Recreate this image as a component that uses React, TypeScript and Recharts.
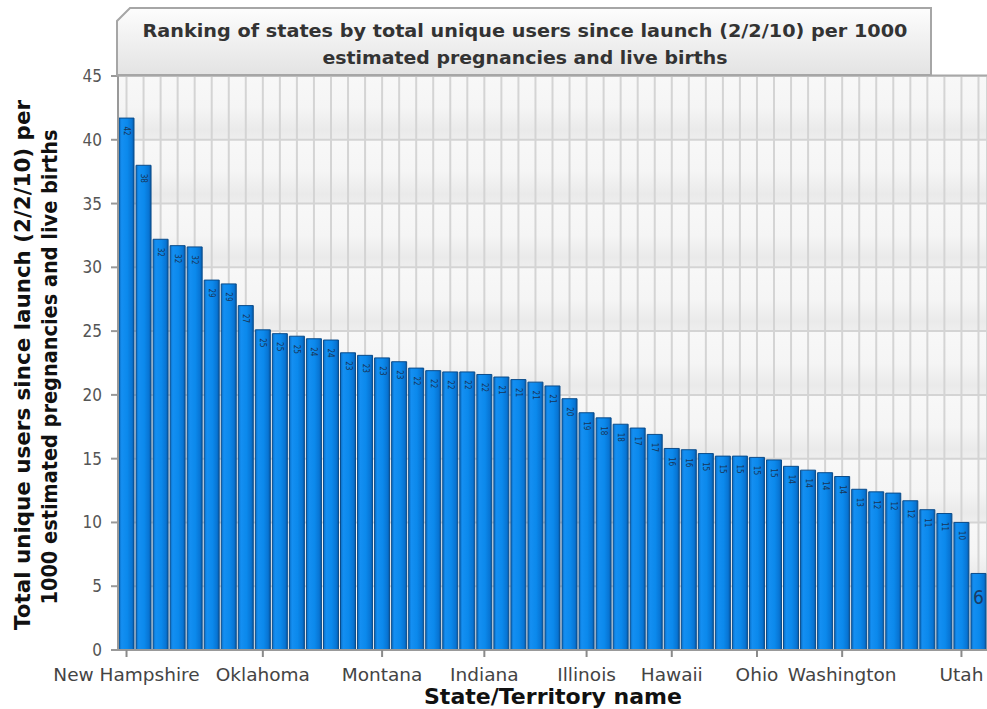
import React from 'react';
import { BarChart, Bar, XAxis, YAxis, CartesianGrid, LabelList } from 'recharts';

const states = [
  'New Hampshire', 'Vermont', 'Maine', 'Alaska', 'Massachusetts', 'Connecticut', 'Rhode Island', 'Wyoming',
  'Oklahoma', 'Oregon', 'Colorado', 'Minnesota', 'Delaware', 'Idaho', 'Kansas',
  'Montana', 'Iowa', 'Nebraska', 'North Dakota', 'South Dakota', 'Wisconsin',
  'Indiana', 'Michigan', 'Missouri', 'Virginia', 'Maryland', 'New Jersey',
  'Illinois', 'Pennsylvania', 'North Carolina', 'Kentucky', 'West Virginia',
  'Hawaii', 'Arizona', 'Tennessee', 'New Mexico', 'South Carolina',
  'Ohio', 'Alabama', 'Georgia', 'Nevada', 'California',
  'Washington', 'Louisiana', 'Arkansas', 'Florida', 'Mississippi', 'New York', 'Texas',
  'Utah', 'District of Columbia',
];

const usersPer1000 = [
  41.7, 38.0, 32.2, 31.7, 31.6, 29.0, 28.7, 27.0,
  25.1, 24.8, 24.6, 24.4, 24.3, 23.3, 23.1,
  22.9, 22.6, 22.1, 21.9, 21.8, 21.8,
  21.6, 21.4, 21.2, 21.0, 20.7, 19.7,
  18.6, 18.2, 17.7, 17.4, 16.9,
  15.8, 15.7, 15.4, 15.2, 15.2,
  15.1, 14.9, 14.4, 14.1, 13.9,
  13.6, 12.6, 12.4, 12.3, 11.7, 11.0, 10.7,
  10.0, 6.0,
];

const shownStateLabels = ['New Hampshire', 'Oklahoma', 'Montana', 'Indiana', 'Illinois', 'Hawaii', 'Ohio', 'Washington', 'Utah'];
const yTicks = [0, 5, 10, 15, 20, 25, 30, 35, 40, 45];
const titleLines = [
  'Ranking of states by total unique users since launch (2/2/10) per 1000',
  'estimated pregnancies and live births',
];
const yTitleLines = [
  'Total unique users since launch (2/2/10) per',
  '1000 estimated pregnancies and live births',
];
const xTitle = 'State/Territory name';

const data = states.map((s, i) => ({ state: s, value: usersPer1000[i] }));

const FONT_C = '"DejaVu Sans Condensed", "DejaVu Sans", Verdana, sans-serif';
const FONT = '"DejaVu Sans", Verdana, sans-serif';

const XTick = (props: any) => {
  const { x, y, payload } = props;
  if (!shownStateLabels.includes(payload.value)) return <g />;
  return (
    <g>
      <line x1={x} x2={x} y1={y} y2={y + 7} stroke="#8a8a8a" strokeWidth={2} />
      <text x={x} y={y + 31} textAnchor="middle" fontSize={18.5} fill="#444" fontFamily={FONT}>
        {payload.value}
      </text>
    </g>
  );
};

const BarLabel = (props: any) => {
  const { x, y, width, value, index } = props;
  const cx = x + width / 2;
  const txt = String(Math.round(Number(value)));
  if (index === data.length - 1) {
    return (
      <text x={cx} y={y + 24} textAnchor="middle" dominantBaseline="central" fontSize={19} fill="#1a3c66" fontFamily={FONT_C}>
        {txt}
      </text>
    );
  }
  const cy = y + 13;
  return (
    <text
      x={cx}
      y={cy}
      textAnchor="middle"
      dominantBaseline="central"
      fontSize={8}
      fill="#1a3556"
      fontFamily={FONT_C}
      transform={`rotate(90, ${cx}, ${cy})`}
    >
      {txt}
    </text>
  );
};

export default function App() {
  return (
    <div style={{ position: 'absolute', left: 0, top: 0, width: 987, height: 709, background: '#fff', overflow: 'hidden' }}>
      <svg width={0} height={0} style={{ position: 'absolute' }}>
        <defs>
          <linearGradient id="barGrad" x1="0" y1="0" x2="1" y2="0">
            <stop offset="0" stopColor="#0a6cc2" />
            <stop offset="0.18" stopColor="#148ff2" />
            <stop offset="0.55" stopColor="#0b89ec" />
            <stop offset="0.85" stopColor="#0875d4" />
            <stop offset="1" stopColor="#0659a6" />
          </linearGradient>
          <linearGradient id="bandGrad" x1="0" y1="0" x2="0" y2="1">
            <stop offset="0" stopColor="#f8f8f8" />
            <stop offset="0.5" stopColor="#f5f5f5" />
            <stop offset="0.85" stopColor="#eaeaea" />
            <stop offset="1" stopColor="#eeeeee" />
          </linearGradient>
          <linearGradient id="titleGrad" x1="0" y1="0" x2="0" y2="1">
            <stop offset="0" stopColor="#fdfdfd" />
            <stop offset="1" stopColor="#e3e3e3" />
          </linearGradient>
        </defs>
      </svg>
      <div style={{ position: 'absolute', left: 0, top: 0 }}>
        <BarChart width={987} height={709} data={data} margin={{ top: 76, right: 0, bottom: 0, left: 0 }}>
          <CartesianGrid stroke="#d4d4d4" strokeWidth={2} horizontalFill={['url(#bandGrad)']} />
          <XAxis
            dataKey="state"
            interval={0}
            height={59}
            tickSize={0}
            tickMargin={0}
            tickLine={false}
            axisLine={{ stroke: '#999', strokeWidth: 2 }}
            tick={<XTick />}
          />
          <YAxis
            width={118}
            domain={[0, 45]}
            ticks={yTicks}
            tickSize={7}
            tickMargin={9}
            axisLine={{ stroke: '#999', strokeWidth: 2 }}
            tickLine={{ stroke: '#999', strokeWidth: 2 }}
            tick={{ fill: '#555', fontSize: 17, fontFamily: FONT_C }}
          />
          <Bar dataKey="value" barSize={15} fill="url(#barGrad)" stroke="#0b4c8a" strokeWidth={1} isAnimationActive={false}>
            <LabelList dataKey="value" content={<BarLabel />} />
          </Bar>
        </BarChart>
      </div>
      <svg width={987} height={709} style={{ position: 'absolute', left: 0, top: 0, pointerEvents: 'none' }}>
        <line x1={117} x2={987} y1={75.5} y2={75.5} stroke="#a8a8a8" strokeWidth={2} />
        <polygon points="117,75 117,21 130,8 931,8 931,75" fill="url(#titleGrad)" stroke="#a6a6a6" strokeWidth={2} />
        <text x={525} y={37} textAnchor="middle" fontSize={18.5} fontWeight="bold" fill="#333" fontFamily={FONT}
          textLength={765} lengthAdjust="spacingAndGlyphs">
          {titleLines[0]}
        </text>
        <text x={525} y={64} textAnchor="middle" fontSize={18.5} fontWeight="bold" fill="#333" fontFamily={FONT}
          textLength={405} lengthAdjust="spacingAndGlyphs">
          {titleLines[1]}
        </text>
        <text transform="translate(30,365) rotate(-90)" textAnchor="middle" fontSize={21} fontWeight="bold" fill="#111" fontFamily={FONT}
          textLength={530} lengthAdjust="spacingAndGlyphs">
          {yTitleLines[0]}
        </text>
        <text transform="translate(57,367) rotate(-90)" textAnchor="middle" fontSize={21} fontWeight="bold" fill="#111" fontFamily={FONT}
          textLength={475} lengthAdjust="spacingAndGlyphs">
          {yTitleLines[1]}
        </text>
        <text x={553} y={704} textAnchor="middle" fontSize={21} fontWeight="bold" fill="#111" fontFamily={FONT}
          textLength={258} lengthAdjust="spacingAndGlyphs">
          {xTitle}
        </text>
      </svg>
    </div>
  );
}
